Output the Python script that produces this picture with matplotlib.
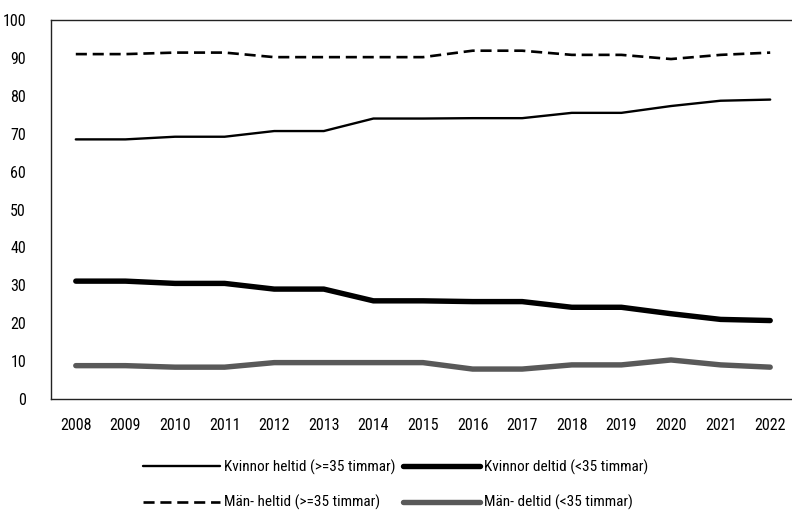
import matplotlib
matplotlib.use("Agg")
import matplotlib.pyplot as plt
from matplotlib import font_manager

names = {f.name for f in font_manager.fontManager.ttflist}
fam = [n for n in ["Liberation Sans Narrow", "Roboto Condensed", "DejaVu Sans Condensed"] if n in names] + ["DejaVu Sans"]
plt.rcParams['font.family'] = fam

years = [2008, 2009, 2010, 2011, 2012, 2013, 2014, 2015, 2016, 2017, 2018, 2019, 2020, 2021, 2022]
kvinnor_heltid = [68.5, 68.5, 69.2, 69.2, 70.7, 70.7, 74.0, 74.0, 74.1, 74.1, 75.5, 75.5, 77.3, 78.7, 79.0]
kvinnor_deltid = [31.1, 31.1, 30.5, 30.5, 29.0, 29.0, 25.9, 25.9, 25.7, 25.7, 24.2, 24.2, 22.5, 21.0, 20.7]
man_heltid = [91.0, 91.0, 91.4, 91.4, 90.2, 90.2, 90.2, 90.2, 91.9, 91.9, 90.8, 90.8, 89.7, 90.8, 91.4]
man_deltid = [8.8, 8.8, 8.4, 8.4, 9.6, 9.6, 9.6, 9.6, 7.9, 7.9, 9.0, 9.0, 10.3, 9.0, 8.4]
y_ticks = [0, 10, 20, 30, 40, 50, 60, 70, 80, 90, 100]

fig = plt.figure(figsize=(7.92, 5.15), dpi=100)
ax = fig.add_axes([51/792, 1 - 399/515, (795 - 51)/792, (399 - 20)/515])

x = list(range(len(years)))
l1, = ax.plot(x, kvinnor_heltid, color='black', lw=1.7, label='Kvinnor heltid (>=35 timmar)', solid_capstyle='round')
l2, = ax.plot(x, kvinnor_deltid, color='black', lw=3.9, label='Kvinnor deltid (<35 timmar)', solid_capstyle='round')
l3, = ax.plot(x, man_heltid, color='black', lw=1.9, ls=(0, (4.2, 2.2)), label='Män- heltid (>=35 timmar)')
l4, = ax.plot(x, man_deltid, color='#595959', lw=3.9, label='Män- deltid (<35 timmar)', solid_capstyle='round')

ax.set_xlim(-0.5, len(years) - 0.5)
ax.set_ylim(0, 100)
ax.set_yticks(y_ticks)
ax.set_xticks(x)
ax.set_xticklabels([str(y) for y in years])
ax.tick_params(length=0, labelsize=11.5)
ax.tick_params(axis='x', pad=14)
ax.tick_params(axis='y', pad=18)
ax.spines['right'].set_visible(False)
for s in ax.spines.values():
    s.set_linewidth(1.0)
    s.set_color('#222222')

leg = fig.legend(handles=[l1, l3, l2, l4], ncol=2, loc='center', bbox_to_anchor=(0.5, 1 - 485/515),
                 frameon=False, fontsize=11, handlelength=5.0, columnspacing=0.5,
                 handletextpad=0.3, labelspacing=1.3)

fig.savefig('out.png', dpi=100)
